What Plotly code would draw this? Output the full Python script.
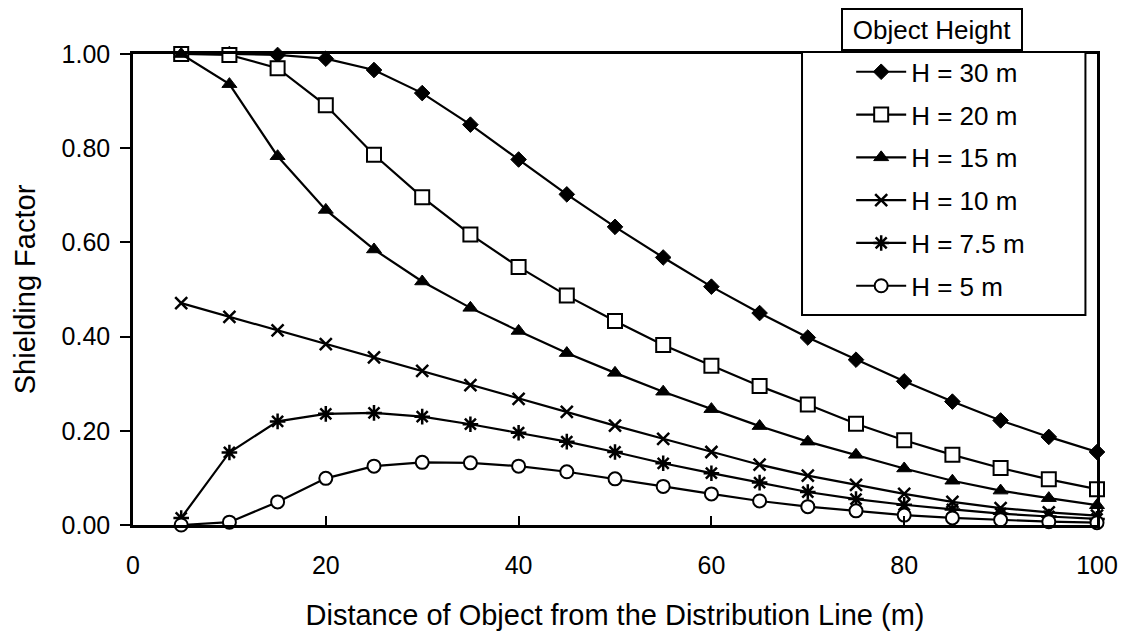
import plotly.graph_objects as go

distance = [5, 10, 15, 20, 25, 30, 35, 40, 45, 50, 55, 60, 65, 70, 75, 80, 85, 90, 95, 100]
h30 = [1.00, 1.00, 0.998, 0.99, 0.966, 0.917, 0.85, 0.776, 0.702, 0.633, 0.568, 0.506, 0.45, 0.398, 0.351, 0.305, 0.262, 0.222, 0.187, 0.155]
h20 = [1.00, 0.998, 0.97, 0.891, 0.786, 0.696, 0.617, 0.548, 0.487, 0.433, 0.382, 0.338, 0.295, 0.256, 0.215, 0.18, 0.149, 0.121, 0.097, 0.076]
h15 = [1.00, 0.936, 0.783, 0.669, 0.585, 0.517, 0.461, 0.412, 0.365, 0.323, 0.283, 0.246, 0.21, 0.177, 0.149, 0.12, 0.094, 0.073, 0.057, 0.042]
h10 = [0.471, 0.442, 0.413, 0.384, 0.356, 0.327, 0.297, 0.268, 0.24, 0.211, 0.183, 0.155, 0.128, 0.105, 0.085, 0.066, 0.049, 0.036, 0.027, 0.02]
h7_5 = [0.015, 0.154, 0.22, 0.236, 0.238, 0.23, 0.214, 0.196, 0.177, 0.155, 0.131, 0.11, 0.09, 0.07, 0.055, 0.043, 0.033, 0.024, 0.018, 0.013]
h5 = [0.0, 0.006, 0.049, 0.099, 0.125, 0.133, 0.132, 0.125, 0.113, 0.098, 0.082, 0.066, 0.051, 0.039, 0.03, 0.021, 0.015, 0.011, 0.007, 0.005]

series_names = ["H = 30 m", "H = 20 m", "H = 15 m", "H = 10 m", "H = 7.5 m", "H = 5 m"]
series_values = [h30, h20, h15, h10, h7_5, h5]
x_ticks = [0, 20, 40, 60, 80, 100]
y_ticks = [0.0, 0.2, 0.4, 0.6, 0.8, 1.0]

FONT = "Liberation Sans, Arial, sans-serif"

marker_styles = [
    dict(symbol="diamond", size=12, color="black", line=dict(color="black", width=1)),
    dict(symbol="square", size=14, color="white", line=dict(color="black", width=2)),
    dict(symbol="triangle-up", size=13, color="black", line=dict(color="black", width=1)),
    dict(symbol="x-thin", size=12, color="black", line=dict(color="black", width=2.5)),
    dict(symbol="asterisk", size=13, color="black", line=dict(color="black", width=2.5)),
    dict(symbol="circle", size=13, color="white", line=dict(color="black", width=2)),
]

fig = go.Figure()
for i, (name, vals) in enumerate(zip(series_names, series_values)):
    fig.add_trace(go.Scatter(
        x=distance, y=vals, name=name, mode="lines+markers",
        line=dict(color="black", width=2.2),
        marker=marker_styles[i],
        cliponaxis=False,
        legendgroup=f"g{i}",
    ))

fig.update_layout(
    width=1122, height=635,
    margin=dict(l=133, r=25, t=54, b=110),
    paper_bgcolor="white", plot_bgcolor="white",
    font=dict(family=FONT, color="black", size=25),
    showlegend=True,
    legend=dict(
        x=0.745, y=1.012, xanchor="left", yanchor="top",
        bgcolor="rgba(0,0,0,0)", borderwidth=0,
        font=dict(size=26, family=FONT, color="black"),
        itemwidth=50, tracegroupgap=6,
    ),
    xaxis=dict(
        range=[0, 100], tickvals=x_ticks, ticktext=[str(v) for v in x_ticks],
        showline=True, linecolor="black", linewidth=2.5, mirror=True,
        ticks="inside", ticklen=9, tickwidth=2, tickcolor="black",
        showgrid=False, zeroline=False, automargin=False,
        tickfont=dict(size=25, family=FONT),
        ticklabelstandoff=16,
        title=dict(text="Distance of Object from the Distribution Line (m)",
                   font=dict(size=29, family=FONT), standoff=27),
    ),
    yaxis=dict(
        range=[0, 1], tickvals=y_ticks, ticktext=[f"{v:.2f}" for v in y_ticks],
        showline=True, linecolor="black", linewidth=2.5, mirror=True,
        ticks="outside", ticklen=10, tickwidth=2, tickcolor="black",
        showgrid=False, zeroline=False, automargin=False,
        tickfont=dict(size=25, family=FONT),
        ticklabelstandoff=5,
        title=dict(text="Shielding Factor", font=dict(size=29, family=FONT), standoff=18),
    ),
    shapes=[dict(
        type="rect", xref="paper", yref="paper",
        x0=0.694, x1=0.988, y0=0.446, y1=1.004,
        line=dict(color="black", width=2), fillcolor="white", layer="above",
    )],
    annotations=[dict(
        text="Object Height", xref="paper", yref="paper",
        x=0.829, y=1.053, xanchor="center", yanchor="middle",
        showarrow=False, font=dict(size=26, family=FONT, color="black"),
        bordercolor="black", borderwidth=2, borderpad=3,
        width=172, height=33, bgcolor="white",
    )],
)

fig.write_html(
    "out.html",
    config={"displayModeBar": False},
    post_script="document.body.style.margin='0px';document.body.style.overflow='hidden';",
)
